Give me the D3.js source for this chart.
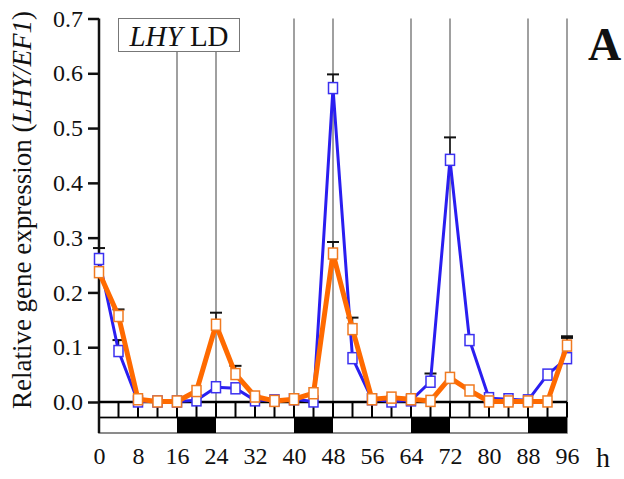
<!DOCTYPE html>
<html>
<head>
<meta charset="utf-8">
<script src="https://cdn.jsdelivr.net/npm/d3@7"></script>
<style>
  body { margin: 0; background: #fff; }
  svg text { font-family: "Liberation Serif", "Times New Roman", "DejaVu Serif", serif !important; fill: #111; }
</style>
</head>
<body>
<div id="chart"></div>
<script>
"use strict";

// sampling times (h)
const hours = [0,4,8,12,16,20,24,28,32,36,40,44,48,52,56,60,64,68,72,76,80,84,88,92,96]
// two series, relative expression LHY/EF1
const blueVals   = [0.261,0.093,0.001,0.001,0.001,0.003,0.027,0.025,0.003,0.003,0.005,0.001,0.573,0.080,0.005,0.001,0.003,0.037,0.442,0.113,0.007,0.005,0.003,0.050,0.080]
const orangeVals = [0.237,0.157,0.005,0.001,0.001,0.020,0.141,0.051,0.010,0.002,0.005,0.016,0.271,0.133,0.005,0.008,0.005,0.002,0.044,0.021,0.001,0.001,0.001,0.001,0.103]
// upper error bar ends (null = none drawn)
const blueErr   = [0.281,0.113,null,null,null,null,null,null,null,null,null,null,0.598,null,null,null,null,0.052,0.483,null,null,null,null,null,0.117]
const orangeErr = [null,0.169,null,null,null,null,0.163,0.066,null,null,null,null,0.292,0.154,null,null,null,null,null,null,null,null,null,null,0.120]
const yTicks = [0.0,0.1,0.2,0.3,0.4,0.5,0.6,0.7]
const xTicks = [0,8,16,24,32,40,48,56,64,72,80,88,96]
// dark periods of the light/dark strip
const darkPeriods = [[16,24],[40,48],[64,72],[88,96]]
const guideLines = [16,24,40,48,64,72,88,96]

const W = 624, H = 479
const svg = d3.select("#chart").append("svg").attr("width", W).attr("height", H)

const x = d3.scaleLinear().domain([0,96]).range([99,567])
const y = d3.scaleLinear().domain([0,0.7]).range([402,18.5])

const stripTop = y(0), stripMid = 417.5, stripBot = 433

// vertical guide lines
svg.append("g").selectAll("line").data(guideLines).enter().append("line")
  .attr("x1", d => x(d)).attr("x2", d => x(d))
  .attr("y1", d => (d==16||d==24) ? 52 : y(0.7))
  .attr("y2", stripTop)
  .attr("stroke", "#808080").attr("stroke-width", 1.5)

// label box
svg.append("rect").attr("x", 118.5).attr("y", 18.5).attr("width", 121).attr("height", 33)
  .attr("fill", "#fff").attr("stroke", "#777").attr("stroke-width", 1)
const lbl = svg.append("text").attr("x", 179).attr("y", 46).attr("text-anchor", "middle").style("font-size", "29px")
lbl.append("tspan").style("font-style", "italic").text("LHY")
lbl.append("tspan").text(" LD")

// panel letter
svg.append("text").attr("x", 588).attr("y", 60).style("font-size", "46px").style("font-weight", "bold").text("A")

// light/dark strip
svg.append("rect").attr("x", x(0)).attr("y", stripMid).attr("width", x(96)-x(0)).attr("height", stripBot-stripMid)
  .attr("fill", "#fff").attr("stroke", "#666").attr("stroke-width", 1.5)
svg.append("g").selectAll("rect").data(darkPeriods).enter().append("rect")
  .attr("x", d => x(d[0])).attr("y", stripMid).attr("width", d => x(d[1])-x(d[0])).attr("height", stripBot-stripMid)
  .attr("fill", "#000")

// tick row
svg.append("g").selectAll("line").data(hours).enter().append("line")
  .attr("x1", d => x(d)).attr("x2", d => x(d))
  .attr("y1", stripTop).attr("y2", stripMid)
  .attr("stroke", "#000").attr("stroke-width", 2)
svg.append("line").attr("x1", x(0)).attr("x2", x(96)).attr("y1", stripMid).attr("y2", stripMid)
  .attr("stroke", "#000").attr("stroke-width", 1.5)

// y axis
const yAxis = d3.axisLeft(y).tickValues(yTicks).tickFormat(d3.format(".1f")).tickSize(11).tickPadding(5)
const yg = svg.append("g").attr("transform", `translate(${x(0)},0)`).call(yAxis)
yg.select(".domain").remove()
yg.selectAll(".tick line").attr("stroke", "#111").attr("stroke-width", 2.5)
yg.selectAll(".tick text").style("font-size", "24px").attr("fill", "#111")
svg.append("line").attr("x1", x(0)).attr("x2", x(0)).attr("y1", y(0.7)).attr("y2", stripBot)
  .attr("stroke", "#111").attr("stroke-width", 2.5)
// zero baseline
svg.append("line").attr("x1", x(0)).attr("x2", x(96)).attr("y1", stripTop).attr("y2", stripTop)
  .attr("stroke", "#000").attr("stroke-width", 2.5)

// x axis labels
const xAxis = d3.axisBottom(x).tickValues(xTicks).tickSize(0).tickPadding(0)
const xg = svg.append("g").attr("transform", `translate(0,447)`).call(xAxis)
xg.select(".domain").remove()
xg.selectAll(".tick text").style("font-size", "24px").attr("fill", "#111")
svg.append("text").attr("x", 603).attr("y", 467).attr("text-anchor", "middle").style("font-size", "28px").text("h")

// y title
const yt = svg.append("text").attr("transform", "translate(31,210) rotate(-90)").attr("text-anchor", "middle").style("font-size", "27px")
yt.append("tspan").text("Relative gene expression (")
yt.append("tspan").style("font-style", "italic").text("LHY/EF1")
yt.append("tspan").text(")")

// error bars
function drawErr(vals, errs) {
  const g = svg.append("g")
  hours.forEach((h, i) => {
    if (errs[i] == null) return
    g.append("line").attr("x1", x(h)).attr("x2", x(h)).attr("y1", y(vals[i])).attr("y2", y(errs[i]))
      .attr("stroke", "#111").attr("stroke-width", 1.5)
    g.append("line").attr("x1", x(h)-6).attr("x2", x(h)+6).attr("y1", y(errs[i])).attr("y2", y(errs[i]))
      .attr("stroke", "#111").attr("stroke-width", 2)
  })
}
drawErr(blueVals, blueErr)
drawErr(orangeVals, orangeErr)

const line = d3.line().x((d,i) => x(hours[i])).y(d => y(d))

function drawSeries(vals, color, lw, mstroke) {
  svg.append("path").datum(vals).attr("d", line).attr("fill", "none")
    .attr("stroke", color).attr("stroke-width", lw).attr("stroke-linejoin", "round")
  svg.append("g").selectAll("rect").data(vals).enter().append("rect")
    .attr("x", (d,i) => x(hours[i]) - 4.5).attr("y", d => y(d) - 5.5)
    .attr("width", 9).attr("height", 11)
    .attr("fill", "#fff").attr("stroke", mstroke).attr("stroke-width", 1.5)
}
drawSeries(blueVals, "#2a1ef0", 3, "#3b30f0")
drawSeries(orangeVals, "#ff6a00", 5, "#f07a20")
</script>
</body>
</html>
